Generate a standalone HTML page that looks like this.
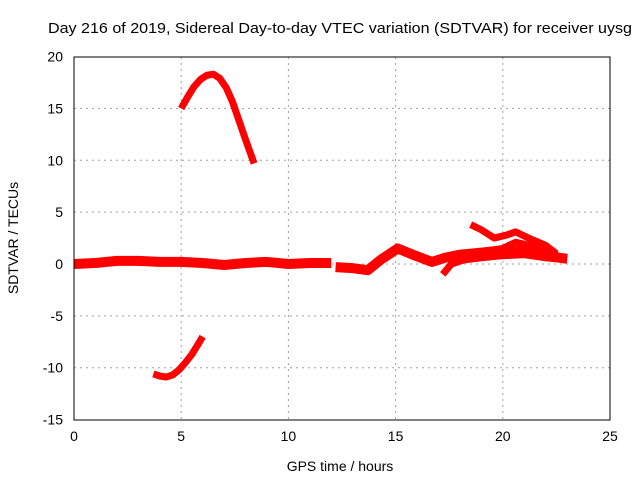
<!DOCTYPE html>
<html><head><meta charset="utf-8"><style>
body{margin:0;background:#fff}
svg{display:block;font-family:"Liberation Sans",sans-serif}
</style></head><body>
<svg id="c" width="640" height="480">
<text x="48" y="33" font-size="15" textLength="584" lengthAdjust="spacingAndGlyphs">Day 216 of 2019, Sidereal Day-to-day VTEC variation (SDTVAR) for receiver uysg</text>
<text x="340" y="471" font-size="14" text-anchor="middle">GPS time / hours</text>
<text transform="translate(18,238) rotate(-90)" font-size="14" text-anchor="middle">SDTVAR / TECUs</text>
<g id="grid"></g><g id="series"></g>
<rect x="74" y="57" width="536" height="363" fill="none" stroke="#000"/>
</svg>
<script>
const xTicks=[0,5,10,15,20,25];
const yTicks=[-15,-10,-5,0,5,10,15,20];
const seriesMainX=[0,1,2,3,4,5,6,7,8,9,10,11,12];
const seriesMainY=[0,0.1,0.3,0.3,0.2,0.2,0.1,-0.1,0.1,0.2,0,0.1,0.1];
const seriesEveX=[12.2,13,13.7,14.3,15.1,15.8,16.7,17.3,18,19,20,21,22,23];
const seriesEveY=[-0.3,-0.4,-0.6,0.4,1.5,0.9,0.2,0.6,0.9,1.1,1.3,1.2,0.8,0.5];
const seriesLowX=[17.2,17.6,18.2,19,20,21,22,23];
const seriesLowY=[-1,0,0.4,0.6,0.8,0.9,0.6,0.4];
const seriesMidX=[18,19,20,20.6,21.2,22,22.8];
const seriesMidY=[1.0,1.2,1.5,2.1,1.8,1.4,0.5];
const seriesUpX=[18.5,19,19.6,20.2,20.6,21.2,22,22.5];
const seriesUpY=[3.8,3.3,2.5,2.8,3.1,2.5,1.8,1.0];
const seriesArcX=[5,5.3,5.6,5.9,6.2,6.5,6.8,7.1,7.4,7.7,8,8.4];
const seriesArcY=[15,16.1,17.1,17.8,18.2,18.3,17.9,17,15.6,13.8,12,9.7];
const seriesDipX=[3.7,4,4.3,4.6,4.9,5.2,5.5,5.8,6];
const seriesDipY=[-10.6,-10.8,-10.9,-10.7,-10.2,-9.5,-8.7,-7.7,-7];
const X=v=>74+v*(536/25), Y=v=>264-v*(363/35);
const ns="http://www.w3.org/2000/svg";
const g=document.getElementById('grid'), s=document.getElementById('series');
function mk(tag,at,p){const e=document.createElementNS(ns,tag);for(const k in at)e.setAttribute(k,at[k]);p.appendChild(e);return e;}
xTicks.forEach(t=>{
  if(t>0&&t<25){const l=mk('line',{x1:X(t),x2:X(t),y1:57,y2:420,stroke:'#a0a0a0','stroke-dasharray':'2,4'},g);
  
  }
  const tx=mk('text',{x:X(t),y:441,'font-size':14,'text-anchor':'middle'},g);tx.textContent=t;
  
  
});
yTicks.forEach(t=>{
  if(t>-15&&t<20){const l=mk('line',{x1:74,x2:610,y1:Y(t),y2:Y(t),stroke:'#a0a0a0','stroke-dasharray':'2,4'},g);
  
  }
  const tx=mk('text',{x:63,y:Y(t)+5,'font-size':14,'text-anchor':'end'},g);tx.textContent=t;
  
  
});
function line(xs,ys,w,name){
  const p=mk('polyline',{points:xs.map((x,i)=>X(x)+','+Y(ys[i])).join(' '),fill:'none',stroke:'#ff0000','stroke-width':w,'stroke-linejoin':'round','stroke-linecap':'butt'},s);
  
  
}
line(seriesMainX,seriesMainY,10,'series-main');
line(seriesEveX,seriesEveY,10,'series-evening');
line(seriesLowX,seriesLowY,7,'series-low-branch');
line(seriesMidX,seriesMidY,7,'series-mid-branch');
line(seriesUpX,seriesUpY,7,'series-upper-branch');
line(seriesArcX,seriesArcY,7,'series-arc');
line(seriesDipX,seriesDipY,7,'series-dip');
</script>
</body></html>
